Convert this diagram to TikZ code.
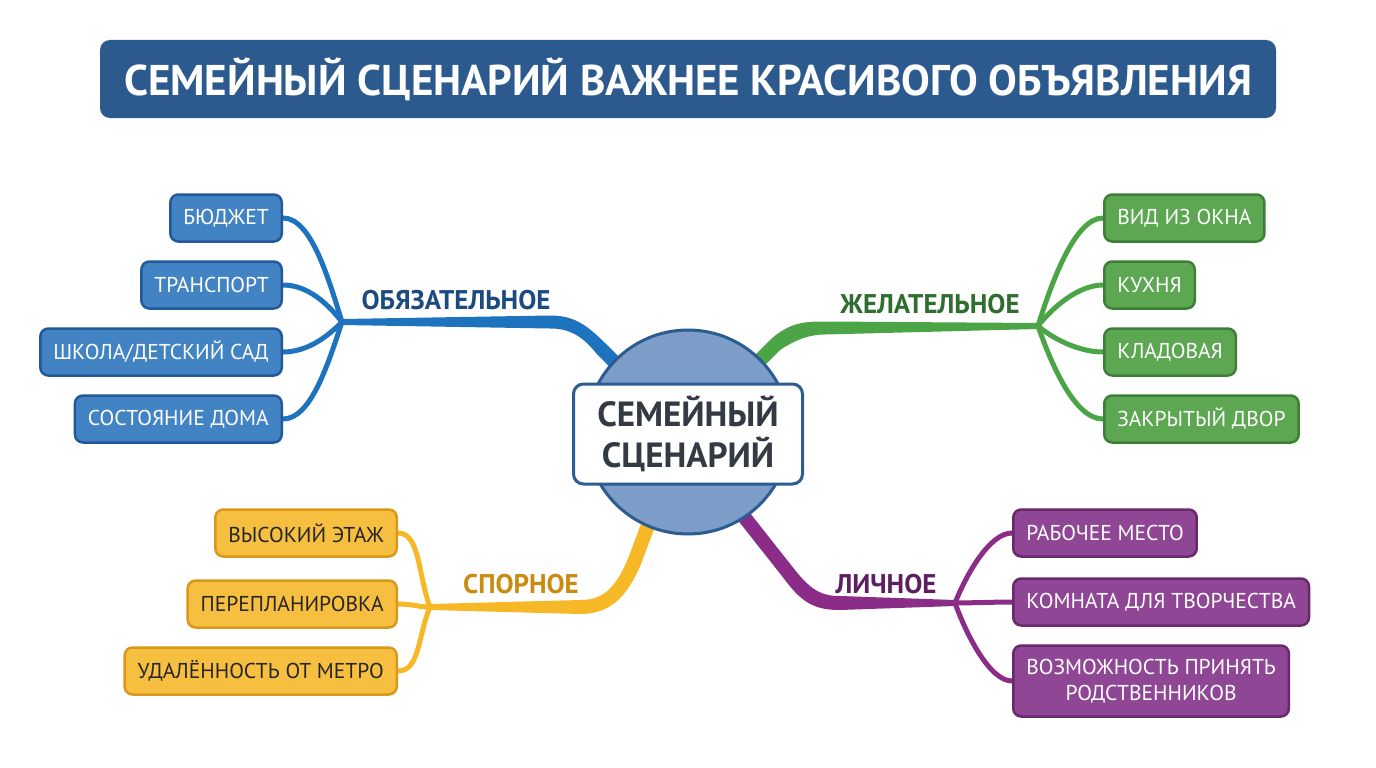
\documentclass[tikz,border=0pt]{standalone}
\usepackage{fontspec}
\setmainfont{PT Sans}
\usetikzlibrary{calc}
\definecolor{titleblue}{HTML}{2C5A8F}
\definecolor{corefill}{HTML}{7B9DC7}
\definecolor{coreline}{HTML}{2D5C92}
\definecolor{coretext}{HTML}{333A44}
\definecolor{bfill}{HTML}{4283C4}
\definecolor{bline}{HTML}{22599A}
\definecolor{bconn}{HTML}{1E73BE}
\definecolor{btext}{HTML}{1C4B82}
\definecolor{gfill}{HTML}{5DA753}
\definecolor{gline}{HTML}{3D7F36}
\definecolor{gconn}{HTML}{4BA546}
\definecolor{gtext}{HTML}{2F6E2F}
\definecolor{yfill}{HTML}{F6BF3F}
\definecolor{yline}{HTML}{D9981A}
\definecolor{yconn}{HTML}{F7B827}
\definecolor{ytext}{HTML}{C98B12}
\definecolor{pfill}{HTML}{8F4694}
\definecolor{pline}{HTML}{69296E}
\definecolor{pconn}{HTML}{8B2D88}
\definecolor{ptext}{HTML}{5E1F60}
\definecolor{darktext}{HTML}{262626}
\pgfdeclarelayer{bg}
\pgfsetlayers{bg,main}
\tikzset{
  leafbox/.style={rounded corners=8pt, line width=2.5pt, inner xsep=13pt, inner ysep=0pt,
    minimum height=47pt, font=\fontsize{21.5}{26}\selectfont, align=center},
  bleaf/.style={leafbox, fill=bfill, draw=bline, text=white, anchor=east},
  gleaf/.style={leafbox, fill=gfill, draw=gline, text=white, anchor=west},
  yleaf/.style={leafbox, fill=yfill, draw=yline, text=darktext, anchor=east},
  pleaf/.style={leafbox, fill=pfill, draw=pline, text=white, anchor=west},
  branchlabel/.style={font=\bfseries\fontsize{27}{32}\selectfont, inner sep=0pt},
  conn/.style={line width=5pt, line cap=round},
}
\begin{document}
\begin{tikzpicture}[x=1pt,y=-1pt]
\useasboundingbox (0,0) rectangle (1376,768);

% title
\node[fill=titleblue, rounded corners=10pt, minimum width=1176pt, minimum height=78pt,
  text=white, font=\bfseries\fontsize{43}{50}\selectfont] (title) at (688,79)
  {СЕМЕЙНЫЙ СЦЕНАРИЙ ВАЖНЕЕ КРАСИВОГО ОБЪЯВЛЕНИЯ};

% hubs
\coordinate (hubB) at (342,322);
\coordinate (hubG) at (1038,326);
\coordinate (hubY) at (430,607);
\coordinate (hubP) at (955,603);

% centre
\node[circle, minimum size=204pt, fill=corefill, draw=coreline, line width=3pt] (core) at (688,432) {};
\node[rounded corners=10pt, fill=white, draw=coreline, line width=3pt, minimum width=229pt,
  minimum height=100pt, align=center, text=coretext,
  font=\bfseries\fontsize{35}{41}\selectfont] (centre) at (688,434) {СЕМЕЙНЫЙ\\СЦЕНАРИЙ};

% leaves
\node[bleaf] (budget) at (283,218) {БЮДЖЕТ};
\node[bleaf] (transport) at (283,285) {ТРАНСПОРТ};
\node[bleaf] (school) at (283,352) {ШКОЛА/ДЕТСКИЙ САД};
\node[bleaf] (house) at (283,419) {СОСТОЯНИЕ ДОМА};

\node[gleaf] (view) at (1103,218) {ВИД ИЗ ОКНА};
\node[gleaf] (kitchen) at (1103,285) {КУХНЯ};
\node[gleaf] (pantry) at (1103,352) {КЛАДОВАЯ};
\node[gleaf] (yard) at (1103,419) {ЗАКРЫТЫЙ ДВОР};

\node[yleaf] (floor) at (398,533) {ВЫСОКИЙ ЭТАЖ};
\node[yleaf] (replan) at (398,604) {ПЕРЕПЛАНИРОВКА};
\node[yleaf] (metro) at (398,671) {УДАЛЁННОСТЬ ОТ МЕТРО};

\node[pleaf] (work) at (1012,533) {РАБОЧЕЕ МЕСТО};
\node[pleaf] (room) at (1012,602) {КОМНАТА ДЛЯ ТВОРЧЕСТВА};
\node[pleaf, minimum height=71pt, font=\fontsize{21.5}{26}\selectfont] (relatives) at (1012,681) {ВОЗМОЖНОСТЬ ПРИНЯТЬ\\РОДСТВЕННИКОВ};

% branch labels
\node[branchlabel, text=btext] (lblB) at (456,300) {ОБЯЗАТЕЛЬНОЕ};
\node[branchlabel, text=gtext] (lblG) at (930,304) {ЖЕЛАТЕЛЬНОЕ};
\node[branchlabel, text=ytext] (lblY) at (521,584) {СПОРНОЕ};
\node[branchlabel, text=ptext] (lblP) at (886,584) {ЛИЧНОЕ};

\begin{pgfonlayer}{bg}
\fill[white] (0,0) rectangle (1376,768);
% main tapered branches
\fill[bconn] (645,383) -- (605,343) .. controls (585,323) and (572,315.5) .. (550,315.5)
  -- ($(hubB)+(0,-3)$) -- ($(hubB)+(0,3)$) -- (550,328.5)
  .. controls (566,328.5) and (580,333) .. (596,353) -- (635,393) -- cycle;
\fill[gconn] (730,380) -- (770,340) .. controls (790,322) and (805,321.5) .. (825,321.5)
  -- ($(hubG)+(0,-3)$) -- ($(hubG)+(0,3)$) -- (825,334.5)
  .. controls (812,334.5) and (798,338) .. (780,350) -- (740,390) -- cycle;
\fill[yconn] (671.6,482.5) -- (641.6,562.5) .. controls (628,595) and (612,614) .. (580,614)
  -- ($(hubY)+(0,3)$) -- ($(hubY)+(0,-3)$) -- (580,600)
  .. controls (602,600) and (615,590) .. (628.4,557.5) -- (658.4,477.5) -- cycle;
\fill[pconn] (720.5,475.7) -- (795.5,570.7) .. controls (812,591) and (822,596) .. (840,596)
  -- ($(hubP)+(0,-3)$) -- ($(hubP)+(0,3)$) -- (840,610)
  .. controls (815,610) and (802,603) .. (784.5,579.3) -- (709.5,484.3) -- cycle;

% leaf connectors
\draw[conn, bconn] (hubB) .. controls +(-14,-45) and +(28,0) .. (budget.east);
\draw[conn, bconn] (hubB) .. controls +(-14,-18) and +(25,0) .. (transport.east);
\draw[conn, bconn] (hubB) .. controls +(-14,14) and +(25,0) .. (school.east);
\draw[conn, bconn] (hubB) .. controls +(-14,42) and +(28,0) .. (house.east);

\draw[conn, gconn] (hubG) .. controls +(14,-45) and +(-28,0) .. (view.west);
\draw[conn, gconn] (hubG) .. controls +(14,-18) and +(-25,0) .. (kitchen.west);
\draw[conn, gconn] (hubG) .. controls +(14,12) and +(-25,0) .. (pantry.west);
\draw[conn, gconn] (hubG) .. controls +(14,40) and +(-28,0) .. (yard.west);

\draw[conn, yconn] (hubY) .. controls +(-12,-32) and +(22,0) .. (floor.east);
\draw[conn, yconn] (hubY) .. controls +(-12,0) and +(15,0) .. (replan.east);
\draw[conn, yconn] (hubY) .. controls +(-12,28) and +(22,0) .. (metro.east);

\draw[conn, pconn] (hubP) .. controls +(12,-30) and +(-22,0) .. (work.west);
\draw[conn, pconn] (hubP) .. controls +(12,0) and +(-15,0) .. (room.west);
\draw[conn, pconn] (hubP) .. controls +(12,33) and +(-22,0) .. (relatives.west);
\end{pgfonlayer}
\end{tikzpicture}
\end{document}
